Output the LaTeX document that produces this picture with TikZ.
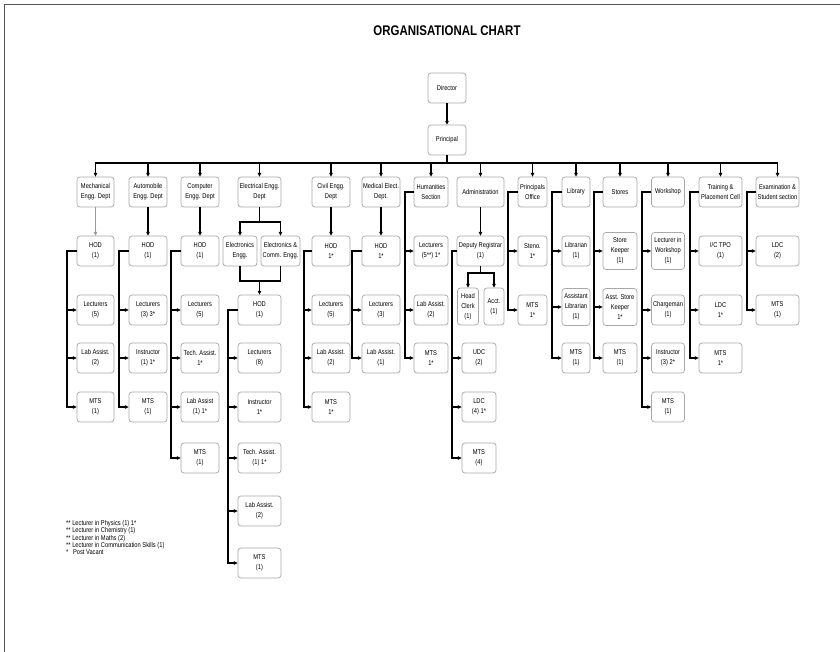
\documentclass[tikz,border=0pt]{standalone}
\usepackage{fontspec}
\setmainfont[FakeStretch=0.82]{Liberation Sans}
\usetikzlibrary{arrows.meta}
\definecolor{boxgray}{HTML}{A8A8A8}
\definecolor{framegray}{HTML}{555555}
\definecolor{lightln}{HTML}{9A9A9A}
\begin{document}
\begin{tikzpicture}[x=1pt,y=-1pt,
  box/.style={draw=boxgray, line width=0.7pt, rounded corners=3pt, align=center,
    inner sep=1pt, minimum height=30pt, font=\fontsize{7}{10}\selectfont, text=black},
  tall/.style={minimum height=37pt},
  ln/.style={line width=1.1pt, draw=black},
  arr/.style={line width=1.1pt, draw=black, -{Triangle[length=3.8pt,width=3.6pt]}},
  legend/.style={align=left, inner sep=0pt, font=\fontsize{7}{7.4}\selectfont}
]
\useasboundingbox (0,0) rectangle (840,652);
\draw[line width=1.5pt, draw=framegray] (4.5,652) -- (4.5,4.5) -- (840,4.5);

\node[inner sep=0pt, font=\fontsize{14}{16}\selectfont\bfseries] (title) at (447,31) {ORGANISATIONAL CHART};

% top
\node[box, minimum width=38pt] (dir) at (447,88) {Director};
\node[box, minimum width=38pt] (prin) at (447,140) {Principal};
\draw[arr] (dir) -- (prin);
\coordinate (bus) at (447,163);

% departments
\node[box, minimum width=37pt] (mech) at (95.5,192) {Mechanical\\Engg. Dept};
\node[box, minimum width=38pt] (auto) at (148,192) {Automobile\\Engg. Dept};
\node[box, minimum width=38pt] (comp) at (200,192) {Computer\\Engg. Dept};
\node[box, minimum width=43pt] (elec) at (259.5,192) {Electrical Engg.\\Dept};
\node[box, minimum width=38pt] (civ) at (331,192) {Civil Engg.\\Dept};
\node[box, minimum width=38pt] (med) at (381,192) {Medical Elect.\\Dept.};
\node[box, minimum width=34pt] (hum) at (431,192) {Humanities\\Section};
\node[box, minimum width=47pt] (adm) at (480.5,192) {Administration};
\node[box, minimum width=29pt] (po) at (532.5,192) {Principals\\Office};
\node[box, minimum width=28pt] (lib) at (576,192) {Library};
\node[box, minimum width=34pt] (sto) at (620,192) {Stores};
\node[box, minimum width=33pt] (ws) at (668,192) {Workshop};
\node[box, minimum width=43pt] (tr) at (720.5,192) {Training \&\\Placement Cell};
\node[box, minimum width=43pt] (ex) at (777.5,192) {Examination \&\\Student section};

\foreach \d in {mech,auto,comp,elec,civ,med,hum,adm,po,lib,sto,ws,tr,ex}
  \draw[arr] (prin.south) -- (bus) -| (\d.north);

% Mechanical
\node[box, minimum width=37pt] (mHod) at (95.5,251) {HOD\\(1)};
\node[box, minimum width=37pt] (mLec) at (95.5,310) {Lecturers\\(5)};
\node[box, minimum width=37pt] (mLab) at (95.5,358) {Lab Assist.\\(2)};
\node[box, minimum width=37pt] (mMts) at (95.5,407) {MTS\\(1)};
\draw[arr, draw=lightln] (mech) -- (mHod);
\coordinate (sMe) at (67,251);
\foreach \c in {mLec,mLab,mMts} \draw[arr] (mHod.west) -- (sMe) |- (\c.west);

% Automobile
\node[box, minimum width=38pt] (aHod) at (148,251) {HOD\\(1)};
\node[box, minimum width=38pt] (aLec) at (148,310) {Lecturers\\(3) 3*};
\node[box, minimum width=38pt] (aIns) at (148,358) {Instructor\\(1) 1*};
\node[box, minimum width=38pt] (aMts) at (148,407) {MTS\\(1)};
\draw[arr] (auto) -- (aHod);
\coordinate (sAu) at (119,251);
\foreach \c in {aLec,aIns,aMts} \draw[arr] (aHod.west) -- (sAu) |- (\c.west);

% Computer
\node[box, minimum width=38pt] (cHod) at (200,251) {HOD\\(1)};
\node[box, minimum width=38pt] (cLec) at (200,310) {Lecturers\\(5)};
\node[box, minimum width=38pt] (cTech) at (200,358) {Tech. Assist.\\1*};
\node[box, minimum width=38pt] (cLab) at (200,407) {Lab Assist\\(1) 1*};
\node[box, minimum width=38pt] (cMts) at (200,458) {MTS\\(1)};
\draw[arr] (comp) -- (cHod);
\coordinate (sCo) at (171,251);
\foreach \c in {cLec,cTech,cLab,cMts} \draw[arr] (cHod.west) -- (sCo) |- (\c.west);

% Electrical
\node[box, minimum width=34pt] (eEn) at (240,251) {Electronics\\Engg.};
\node[box, minimum width=39pt] (eCo) at (280.5,251) {Electronics \&\\Comm. Engg.};
\node[box, minimum width=43pt] (eHod) at (259.5,310) {HOD\\(1)};
\node[box, minimum width=43pt] (eLec) at (259.5,358) {Lecturers\\(8)};
\node[box, minimum width=43pt] (eIns) at (259.5,407) {Instructor\\1*};
\node[box, minimum width=43pt] (eTech) at (259.5,458) {Tech. Assist.\\(1) 1*};
\node[box, minimum width=43pt] (eLab) at (259.5,511) {Lab Assist.\\(2)};
\node[box, minimum width=43pt] (eMts) at (259.5,563) {MTS\\(1)};
\coordinate (eTop) at (259.5,222);
\coordinate (eJoin) at (259.5,281);
\draw[ln] (elec.south) -- (eTop);
\draw[arr] (eTop) -| (eEn.north);
\draw[arr] (eTop) -| (eCo.north);
\draw[ln] (eEn.south) |- (eJoin);
\draw[ln] (eCo.south) |- (eJoin);
\draw[arr] (eJoin) -- (eHod.north);
\coordinate (sEl) at (228,310);
\foreach \c in {eLec,eIns,eTech,eLab,eMts} \draw[arr] (eHod.west) -- (sEl) |- (\c.west);

% Civil
\node[box, minimum width=38pt] (vHod) at (331,251) {HOD\\1*};
\node[box, minimum width=38pt] (vLec) at (331,310) {Lecturers\\(5)};
\node[box, minimum width=38pt] (vLab) at (331,358) {Lab Assist.\\(2)};
\node[box, minimum width=38pt] (vMts) at (331,407) {MTS\\1*};
\draw[arr] (civ) -- (vHod);
\coordinate (sCi) at (304,251);
\foreach \c in {vLec,vLab,vMts} \draw[arr] (vHod.west) -- (sCi) |- (\c.west);

% Medical
\node[box, minimum width=38pt] (dHod) at (381,251) {HOD\\1*};
\node[box, minimum width=38pt] (dLec) at (381,310) {Lecturers\\(3)};
\node[box, minimum width=38pt] (dLab) at (381,358) {Lab Assist.\\(1)};
\draw[arr] (med) -- (dHod);
\coordinate (sMd) at (352,251);
\foreach \c in {dLec,dLab} \draw[arr] (dHod.west) -- (sMd) |- (\c.west);

% Humanities
\node[box, minimum width=34pt] (hLec) at (431,251) {Lecturers\\(5**) 1*};
\node[box, minimum width=34pt] (hLab) at (431,310) {Lab Assist.\\(2)};
\node[box, minimum width=34pt] (hMts) at (431,358) {MTS\\1*};
\coordinate (sHu) at (405,192);
\foreach \c in {hLec,hLab,hMts} \draw[arr] (hum.west) -- (sHu) |- (\c.west);

% Administration
\node[box, minimum width=47pt] (dr) at (480.5,251) {Deputy Registrar\\(1)};
\node[box, minimum width=21pt, tall] (hc) at (468,306.5) {Head\\Clerk\\(1)};
\node[box, minimum width=20pt, tall] (acct) at (494,306.5) {Acct.\\(1)};
\node[box, minimum width=34pt] (udc) at (479,358) {UDC\\(2)};
\node[box, minimum width=34pt] (aLdc) at (479,407) {LDC\\(4) 1*};
\node[box, minimum width=34pt] (adMts) at (479,458) {MTS\\(4)};
\draw[arr] (adm) -- (dr);
\coordinate (drF) at (480.5,273);
\draw[ln] (dr.south) -- (drF);
\draw[arr] (drF) -| (hc.north);
\draw[arr] (drF) -| (acct.north);
\coordinate (sAd) at (452,251);
\foreach \c in {udc,aLdc,adMts} \draw[arr] (dr.west) -- (sAd) |- (\c.west);

% Principals Office
\node[box, minimum width=29pt] (steno) at (532.5,251) {Steno.\\1*};
\node[box, minimum width=29pt] (pMts) at (532.5,310) {MTS\\1*};
\coordinate (sPo) at (508,192);
\foreach \c in {steno,pMts} \draw[arr] (po.west) -- (sPo) |- (\c.west);

% Library
\node[box, minimum width=28pt] (libr) at (576,251) {Librarian\\(1)};
\node[box, minimum width=28pt, tall] (alib) at (576,307) {Assistant\\Librarian\\(1)};
\node[box, minimum width=28pt] (lMts) at (576,358) {MTS\\(1)};
\coordinate (sLi) at (552,192);
\foreach \c in {libr,alib,lMts} \draw[arr] (lib.west) -- (sLi) |- (\c.west);

% Stores
\node[box, minimum width=34pt, tall] (sk) at (620,251) {Store\\Keeper\\(1)};
\node[box, minimum width=34pt, tall] (ask) at (620,307) {Asst. Store\\Keeper\\1*};
\node[box, minimum width=34pt] (sMts) at (620,358) {MTS\\(1)};
\coordinate (sSt) at (594,192);
\foreach \c in {sk,ask,sMts} \draw[arr] (sto.west) -- (sSt) |- (\c.west);

% Workshop
\node[box, minimum width=33pt, tall] (wLec) at (668,251) {Lecturer in\\Workshop\\(1)};
\node[box, minimum width=33pt] (wCh) at (668,310) {Chargeman\\(1)};
\node[box, minimum width=33pt] (wIns) at (668,358) {Instructor\\(3) 2*};
\node[box, minimum width=33pt] (wMts) at (668,407) {MTS\\(1)};
\coordinate (sWs) at (642,192);
\foreach \c in {wLec,wCh,wIns,wMts} \draw[arr] (ws.west) -- (sWs) |- (\c.west);

% Training
\node[box, minimum width=43pt] (tpo) at (720.5,251) {I/C TPO\\(1)};
\node[box, minimum width=43pt] (tLdc) at (720.5,310) {LDC\\1*};
\node[box, minimum width=43pt] (tMts) at (720.5,358) {MTS\\1*};
\coordinate (sTr) at (690,192);
\foreach \c in {tpo,tLdc,tMts} \draw[arr] (tr.west) -- (sTr) |- (\c.west);

% Examination
\node[box, minimum width=43pt] (xLdc) at (777.5,251) {LDC\\(2)};
\node[box, minimum width=43pt] (xMts) at (777.5,310) {MTS\\(1)};
\coordinate (sEx) at (747,192);
\foreach \c in {xLdc,xMts} \draw[arr] (ex.west) -- (sEx) |- (\c.west);

% legend
\node[legend, anchor=north west] (leg) at (66,520) {%
** Lecturer in Physics (1) 1*\\
** Lecturer in Chemistry (1)\\
** Lecturer in Maths (2)\\
** Lecturer in Communication Skills (1)\\
*\hspace{3pt} Post Vacant};
\end{tikzpicture}
\end{document}
